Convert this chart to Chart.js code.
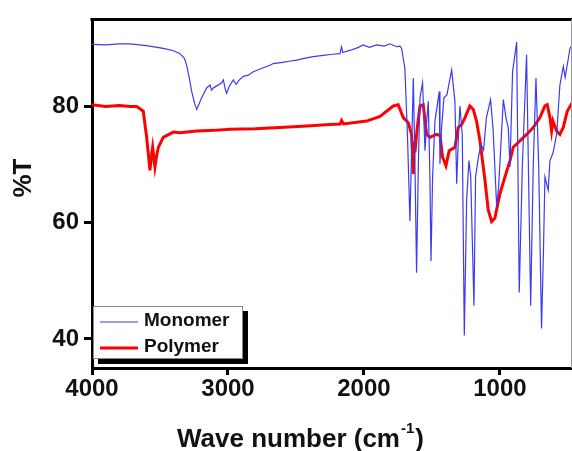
<!DOCTYPE html>
<html>
<head>
<meta charset="utf-8">
<script src="https://cdn.jsdelivr.net/npm/chart.js@4.4.1/dist/chart.umd.min.js"></script>
<style>
  html, body { margin: 0; padding: 0; background: #fff; }
  #wrap { width: 572px; height: 451px; }
</style>
</head>
<body>
<div id="wrap"><canvas id="ftir" width="572" height="451"></canvas></div>
<script>
// wavenumber (cm-1) / transmittance (%)
const monomerWave = [4000, 3900, 3800, 3721, 3600, 3476, 3400, 3353, 3320, 3304, 3285, 3267, 3245, 3230, 3212, 3194, 3157, 3132, 3120, 3108, 3080, 3050, 3034, 3020, 3010, 2990, 2961, 2940, 2920, 2887, 2850, 2814, 2760, 2691, 2667, 2600, 2550, 2495, 2440, 2373, 2300, 2230, 2176, 2165, 2155, 2100, 2050, 2005, 1960, 1907, 1850, 1809, 1760, 1735, 1723, 1699, 1680, 1662, 1650, 1637, 1625, 1613, 1600, 1588, 1569, 1551, 1540, 1527, 1515, 1507, 1495, 1478, 1446, 1441, 1430, 1412, 1390, 1355, 1331, 1318, 1305, 1294, 1277, 1262, 1245, 1228, 1215, 1191, 1179, 1160, 1140, 1120, 1100, 1069, 1050, 1024, 1010, 975, 955, 939, 926, 907, 877, 858, 835, 804, 774, 755, 735, 715, 694, 680, 669, 645, 632, 610, 583, 559, 534, 520, 485, 470];
const monomerT = [90.7, 90.6, 90.8, 90.8, 90.5, 90.0, 89.6, 89.1, 88.3, 87.1, 85.0, 82.6, 80.5, 79.5, 80.5, 81.5, 83.2, 83.7, 82.8, 83.2, 83.6, 84.0, 84.6, 83.0, 82.3, 83.5, 84.6, 83.8, 84.5, 85.2, 85.4, 86.0, 86.5, 87.1, 87.4, 87.6, 87.8, 88.0, 88.3, 88.6, 88.8, 89.0, 89.1, 90.3, 89.3, 89.7, 90.1, 90.6, 90.2, 90.6, 90.4, 90.8, 90.3, 90.4, 90.0, 86.6, 75.0, 60.3, 72.0, 84.9, 70.0, 51.4, 70.0, 81.5, 84.1, 72.4, 77.0, 80.9, 68.0, 53.4, 68.0, 77.5, 82.6, 70.1, 76.0, 81.5, 82.0, 86.3, 80.9, 66.7, 75.0, 80.1, 75.2, 40.6, 63.9, 70.7, 68.0, 45.7, 67.9, 71.0, 73.5, 72.5, 78.0, 81.2, 76.0, 62.8, 66.0, 81.2, 78.0, 76.4, 69.6, 86.0, 91.1, 48.0, 70.0, 88.9, 45.7, 70.0, 84.9, 70.0, 41.8, 55.0, 67.9, 65.6, 70.7, 72.0, 75.2, 83.7, 86.9, 85.0, 90.0, 90.5];

const polymerWave = [4000, 3900, 3800, 3720, 3671, 3623, 3598, 3580, 3574, 3560, 3554, 3537, 3525, 3512, 3476, 3402, 3353, 3230, 3100, 2985, 2800, 2618, 2450, 2250, 2175, 2165, 2150, 1980, 1882, 1784, 1748, 1711, 1674, 1650, 1637, 1630, 1625, 1610, 1588, 1564, 1539, 1515, 1466, 1440, 1422, 1397, 1373, 1331, 1307, 1282, 1257, 1221, 1196, 1172, 1147, 1110, 1086, 1061, 1037, 1000, 963, 926, 902, 853, 804, 755, 706, 669, 652, 632, 620, 610, 583, 559, 534, 505, 470];
const polymerT = [80.3, 80.0, 80.2, 80.0, 80.0, 79.2, 74.7, 70.5, 69.0, 72.0, 73.0, 69.6, 71.5, 73.0, 74.7, 75.6, 75.5, 75.8, 75.9, 76.1, 76.2, 76.4, 76.6, 76.9, 77.0, 77.6, 77.0, 77.5, 78.3, 80.1, 80.3, 78.1, 77.2, 75.2, 68.4, 74.0, 72.1, 76.0, 80.1, 80.3, 75.2, 74.7, 75.2, 75.0, 71.3, 69.8, 72.4, 73.0, 76.4, 76.9, 78.1, 80.1, 79.5, 77.5, 74.1, 67.3, 62.2, 60.2, 60.8, 65.0, 67.9, 70.7, 73.0, 74.1, 75.2, 76.4, 78.1, 80.1, 80.3, 78.1, 75.8, 77.5, 75.8, 75.2, 76.4, 79.2, 80.6];

const xTicks = [4000, 3000, 2000, 1000];
const yTicks = [40, 60, 80];

const seriesNames = ['Monomer', 'Polymer'];
const seriesColors = ['#3b3bef', '#ff0000'];
const seriesWidths = [1.2, 3];

const pts = (w, t) => w.map((v, i) => ({ x: v, y: t[i] }));
const FONT = '"Liberation Sans", Arial, sans-serif';

// top frame line, axis titles (with superscript) and the legend box
const frame = {
  id: 'frame',
  afterDatasetsDraw(chart) {
    const { ctx, chartArea: a } = chart;
    ctx.save();
    ctx.strokeStyle = '#000';
    ctx.lineWidth = 3;
    ctx.beginPath();
    ctx.moveTo(a.left - 1.5, a.top);
    ctx.lineTo(a.right, a.top);
    ctx.stroke();
    ctx.strokeStyle = '#999';
    ctx.lineWidth = 1;
    ctx.beginPath();
    ctx.moveTo(a.right - 0.5, a.top);
    ctx.lineTo(a.right - 0.5, a.bottom);
    ctx.stroke();

    // x title
    ctx.fillStyle = '#111';
    ctx.textBaseline = 'alphabetic';
    ctx.textAlign = 'left';
    ctx.font = 'bold 26px ' + FONT;
    let tx = 177;
    const main = 'Wave number (cm';
    ctx.fillText(main, tx, 447);
    tx += ctx.measureText(main).width + 1;
    ctx.font = 'bold 15px ' + FONT;
    ctx.fillText('-1', tx, 433);
    tx += ctx.measureText('-1').width + 1;
    ctx.font = 'bold 26px ' + FONT;
    ctx.fillText(')', tx, 447);

    // y title
    ctx.save();
    ctx.translate(24, 178);
    ctx.rotate(-Math.PI / 2);
    ctx.textAlign = 'center';
    ctx.textBaseline = 'middle';
    ctx.font = 'bold 26px ' + FONT;
    ctx.fillText('%T', 0, 0);
    ctx.restore();

    // legend
    const bx = a.left + 1, by = a.bottom - 62, bw = 150, bh = 53;
    ctx.fillStyle = '#000';
    ctx.fillRect(bx + 5, by + 5, bw, bh);
    ctx.fillStyle = '#fff';
    ctx.fillRect(bx, by, bw, bh);
    ctx.strokeStyle = '#888';
    ctx.lineWidth = 1;
    ctx.strokeRect(bx + 0.5, by + 0.5, bw - 1, bh - 1);

    ctx.font = 'bold 19px ' + FONT;
    ctx.textBaseline = 'middle';
    ctx.textAlign = 'left';
    seriesNames.forEach((name, i) => {
      const y = by + 15 + i * 26;
      ctx.strokeStyle = seriesColors[i];
      ctx.lineWidth = seriesWidths[i];
      ctx.beginPath();
      ctx.moveTo(bx + 7, y + 1);
      ctx.lineTo(bx + 45, y + 1);
      ctx.stroke();
      ctx.fillStyle = '#111';
      ctx.fillText(name, bx + 51, y);
    });
    ctx.restore();
  }
};

const tickFont = { family: FONT, size: 24, weight: 'bold' };

new Chart(document.getElementById('ftir'), {
  type: 'line',
  data: {
    datasets: [
      {
        label: seriesNames[0],
        data: pts(monomerWave, monomerT),
        borderColor: seriesColors[0],
        borderWidth: seriesWidths[0],
        pointRadius: 0,
        tension: 0
      },
      {
        label: seriesNames[1],
        data: pts(polymerWave, polymerT),
        borderColor: seriesColors[1],
        borderWidth: seriesWidths[1],
        pointRadius: 0,
        tension: 0
      }
    ]
  },
  options: {
    responsive: false,
    animation: false,
    parsing: false,
    layout: { padding: { top: 13, left: 0, right: 0, bottom: 0 } },
    plugins: { legend: { display: false }, tooltip: { enabled: false } },
    scales: {
      x: {
        type: 'linear',
        reverse: true,
        min: 470,
        max: 4000,
        afterBuildTicks: s => { s.ticks = xTicks.map(v => ({ value: v })); },
        afterFit: s => { s.height = 83; },
        grid: { display: true, drawOnChartArea: false, drawTicks: true, tickLength: 7, lineWidth: 3, color: '#000' },
        border: { display: true, color: '#000', width: 3 },
        ticks: { color: '#111', font: tickFont, padding: 0, maxRotation: 0, callback: v => String(v) }
      },
      y: {
        min: 35,
        max: 95,
        afterBuildTicks: s => { s.ticks = yTicks.map(v => ({ value: v })); },
        afterFit: s => { s.width = 92; },
        grid: { display: true, drawOnChartArea: false, drawTicks: true, tickLength: 8, lineWidth: 3, color: '#000' },
        border: { display: true, color: '#000', width: 3 },
        ticks: { color: '#111', font: tickFont, padding: 5, callback: v => String(v) }
      }
    }
  },
  plugins: [frame]
});
</script>
</body>
</html>
